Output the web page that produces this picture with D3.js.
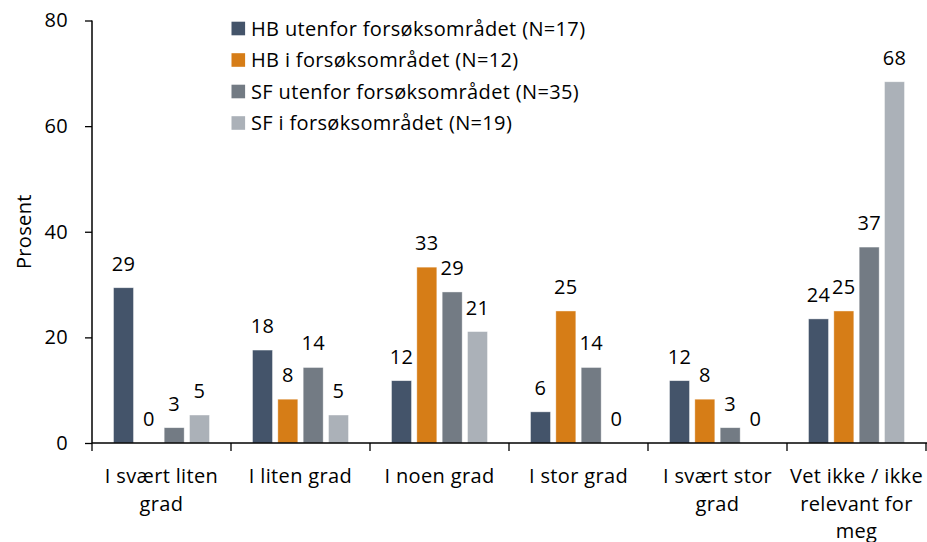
<!DOCTYPE html>
<html><head><meta charset="utf-8">
<script src="https://cdn.jsdelivr.net/npm/d3@7"></script>
<style>body{margin:0;background:#fff}svg{display:block}text{font-family:"Open Sans","Noto Sans",sans-serif;fill:#000;letter-spacing:0.35px}</style>
</head><body><svg id="c" width="927" height="542"></svg>
<script>
const categories = ["I svært liten\ngrad","I liten grad","I noen grad","I stor grad","I svært stor\ngrad","Vet ikke / ikke\nrelevant for\nmeg"];
const seriesNames = ["HB utenfor forsøksområdet (N=17)","HB i forsøksområdet (N=12)","SF utenfor forsøksområdet (N=35)","SF i forsøksområdet (N=19)"];
const hbUtenfor = [29.4,17.6,11.8,5.9,11.8,23.5];
const hbI = [0,8.3,33.3,25,8.3,25];
const sfUtenfor = [2.9,14.3,28.6,14.3,2.9,37.1];
const sfI = [5.3,5.3,21.1,0,0,68.4];
const yTicks = [0,20,40,60,80];
const colors = ["#44546a","#d67d17","#737b84","#abb1b8"];
const series = [hbUtenfor,hbI,sfUtenfor,sfI];

const svg = d3.select("#c");
const L=92,R=926,T=20.5,B=443;
const x0 = d3.scaleBand().domain(categories).range([L,R]).padding(0);
const x1 = d3.scaleBand().domain(d3.range(4)).range([21.5, x0.bandwidth()-21.5]).paddingInner(0.21);
const y = d3.scaleLinear().domain([0,80]).range([B,T]);
const fs = 20;
const ff = "'Open Sans','Noto Sans',sans-serif";

// bars
categories.forEach((c,i)=>{
  const g = svg.append("g").attr("transform",`translate(${x0(c)},0)`);
  series.forEach((s,j)=>{
    const v=s[i];
    if(v>0) g.append("rect").attr("x",x1(j)).attr("y",y(v)).attr("width",x1.bandwidth()).attr("height",y(0)-y(v))
      .attr("fill",colors[j]).attr("stroke","#ffffff").attr("stroke-opacity",0.6).attr("stroke-width",0.7);
    g.append("text").attr("x",x1(j)+x1.bandwidth()/2).attr("y",y(v)-17)
      .attr("text-anchor","middle").style("font-size",fs+"px").text(d3.format(".0f")(v));
  });
});

// y axis
const ya = svg.append("g").attr("transform",`translate(${L},0)`)
  .call(d3.axisLeft(y).tickValues(yTicks).tickSize(7).tickPadding(17));
ya.select(".domain").attr("stroke","#000").attr("stroke-width",1.5).attr("d",`M0,${B}V${T}`);
ya.selectAll(".tick line").attr("stroke","#000").attr("stroke-width",1.3);
ya.selectAll(".tick text").style("font-size",fs+"px").style("font-family",ff).attr("fill","#000");

// x axis
svg.append("line").attr("x1",L).attr("x2",R+1).attr("y1",B).attr("y2",B).attr("stroke","#000").attr("stroke-width",1.5);
categories.forEach((c,i)=>{
  svg.append("line").attr("x1",x0(c)).attr("x2",x0(c)).attr("y1",B).attr("y2",B+8).attr("stroke","#000").attr("stroke-width",1.3);
  const lines=c.split("\n");
  const t=svg.append("text").attr("text-anchor","middle").style("font-size",fs+"px");
  lines.forEach((ln,k)=>t.append("tspan").attr("x",x0(c)+x0.bandwidth()/2).attr("y",483+k*27.5).text(ln));
});
svg.append("line").attr("x1",R).attr("x2",R).attr("y1",B).attr("y2",B+8).attr("stroke","#000").attr("stroke-width",1.3);

// y label
svg.append("text").attr("transform",`translate(31,231.7) rotate(-90)`).attr("text-anchor","middle")
  .style("font-size",fs+"px").text("Prosent");

// legend
seriesNames.forEach((n,j)=>{
  const yy = 28.5+j*31.5;
  svg.append("rect").attr("x",231.5).attr("y",yy-6.8).attr("width",13.6).attr("height",13.6).attr("fill",colors[j]);
  svg.append("text").attr("x",251).attr("y",yy+7.1).style("font-size",fs+"px").text(n);
});
</script></body></html>
